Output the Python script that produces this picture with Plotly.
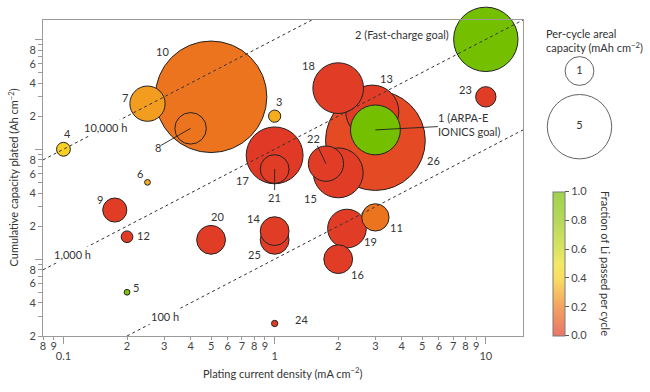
import numpy as np
import plotly.graph_objects as go

# ---------------- data (drawing order: larger bubbles first) ----------------
labels = ["10", "26", "2", "17", "13", "18", "15", "1", "19", "7", "22", "8", "21",
          "20", "25", "14", "16", "11", "9", "23", "4", "3", "12", "24", "6", "5"]
current_density = [0.5, 3.0, 10, 1.0, 2.9, 2.0, 2.0, 3.0, 2.2, 0.25, 1.75, 0.4, 1.0,
                   0.5, 1.0, 1.0, 2.0, 3.0, 0.175, 10, 0.1, 1.0, 0.2, 1.0, 0.25, 0.2]
cumulative_capacity = [3.0, 1.2, 10, 0.88, 2.2, 3.6, 0.61, 1.5, 0.19, 2.6, 0.74, 1.55, 0.66,
                       0.15, 0.15, 0.18, 0.1, 0.24, 0.28, 3.0, 1.0, 2.0, 0.16, 0.026, 0.5, 0.05]
areal_capacity = [15, 12, 5, 3.9, 3.4, 3.1, 3.0, 3.0, 1.8, 1.5, 1.5, 1.2, 1.0,
                  1.0, 1.0, 1.0, 1.0, 0.9, 0.7, 0.5, 0.23, 0.18, 0.165, 0.048, 0.04, 0.04]
li_fraction = [0.18, 0.05, 1.0, 0.0, 0.01, 0.01, 0.01, 1.0, 0.01, 0.28, 0.01, 0.18, 0.01,
               0.01, 0.01, 0.01, 0.01, 0.18, 0.01, 0.01, 0.4, 0.32, 0.01, 0.01, 0.32, 0.95]

line_hours = [10000, 1000, 100]
line_names = ["10,000 h", "1,000 h", "100 h"]

x_minor_ticks = [0.08, 0.09, 0.2, 0.3, 0.4, 0.5, 0.6, 0.7, 0.8, 0.9, 2, 3, 4, 5, 6, 7, 8, 9]
x_minor_text = ["8", "9", "2", "3", "4", "5", "6", "7", "8", "9", "2", "3", "4", "5", "6", "7", "8", "9"]
x_decades = [0.1, 1, 10]
x_decade_text = ["0.1", "1", "10"]
y_label_ticks = [0.02, 0.04, 0.06, 0.08, 0.2, 0.4, 0.6, 0.8, 2, 4, 6, 8]
y_label_text = ["2", "4", "6", "8", "2", "4", "6", "8", "2", "4", "6", "8"]
y_unlabelled_ticks = [0.03, 0.05, 0.07, 0.09, 0.3, 0.5, 0.7, 0.9, 3, 5, 7, 9]
y_decades = [0.1, 1, 10]

legend_capacity = [1, 5]
cbar_ticks = [0.0, 0.2, 0.4, 0.6, 0.8, 1.0]

X_RANGE = [0.08, 15]
Y_RANGE = [0.02, 15]

# ---------------- styling ----------------
FONT = "Lato"
TXT = "#333333"
AX = "#9a9a9a"
L, R, T, B = 43, 5, 20, 56
W, H = 650, 392
PW = W - L - R
PH = H - T - B
PLOT_W = 480

colorscale = [[0.0, "#E03A26"], [0.2, "#EE7A1E"], [0.4, "#F8CF22"], [0.5, "#EEE024"],
              [0.6, "#CCD81E"], [0.8, "#98C814"], [1.0, "#74C000"]]


def lighten(hexc, a=0.7):
    r, g, b = int(hexc[1:3], 16), int(hexc[3:5], 16), int(hexc[5:7], 16)
    f = lambda c: int(round(a * c + (1 - a) * 255))
    return "#%02X%02X%02X" % (f(r), f(g), f(b))


light_scale = [[s, lighten(c)] for s, c in colorscale]

SIZE_PX_PER_UNIT = 28.8
sizeref = 2.0 / SIZE_PX_PER_UNIT ** 2

fig = go.Figure()

# bubbles
fig.add_trace(go.Scatter(
    x=current_density, y=cumulative_capacity, mode="markers", xaxis="x", yaxis="y",
    cliponaxis=False, hoverinfo="text", text=labels,
    marker=dict(size=areal_capacity, sizemode="area", sizeref=sizeref,
                color=li_fraction, colorscale=colorscale, cmin=0, cmax=1,
                showscale=False, opacity=1,
                line=dict(color="#222222", width=1)),
    showlegend=False))

# constant-time lines (capacity = current * hours)
lx0, lx1 = X_RANGE
ly0, ly1 = Y_RANGE
for h in line_hours:
    xs = max(lx0, ly0 * 1000 / h)
    xe = min(lx1, ly1 * 1000 / h)
    xs_arr = np.array([xs, xe])
    fig.add_trace(go.Scatter(
        x=xs_arr, y=xs_arr * h / 1000, mode="lines", xaxis="x2", yaxis="y2",
        line=dict(color="#333333", width=1, dash="3px,3px"),
        hoverinfo="skip", showlegend=False))

# size legend
fig.add_trace(go.Scatter(
    x=[0.5, 0.5], y=[0.75, 0.25], xaxis="x3", yaxis="y3", mode="markers+text",
    text=[str(v) for v in legend_capacity], textposition="middle center",
    textfont=dict(family=FONT, size=11, color=TXT),
    marker=dict(size=legend_capacity, sizemode="area", sizeref=sizeref,
                color="white", line=dict(color="#222222", width=1)),
    hoverinfo="skip", showlegend=False, cliponaxis=False))

# colour bar (drawn lighter, as in the reference)
fig.add_trace(go.Scatter(
    x=[0.5], y=[0.5], xaxis="x3", yaxis="y3", mode="markers",
    marker=dict(size=1, opacity=0, color=[0.0], colorscale=light_scale, cmin=0, cmax=1,
                showscale=True,
                colorbar=dict(
                    x=(552.5 - L) / PW, xanchor="left", y=(T + PH - 191.5) / PH,
                    yanchor="top", len=143.5 / PH, lenmode="fraction", thickness=12,
                    xpad=0, ypad=0, outlinewidth=1, outlinecolor="#7a7a7a",
                    tickvals=cbar_ticks, ticktext=["%.1f" % v for v in cbar_ticks],
                    ticks="outside", ticklen=4, tickcolor="#555555",
                    tickfont=dict(family=FONT, size=11, color="#444444"))),
    hoverinfo="skip", showlegend=False))

tickfont = dict(family=FONT, size=11, color="#444444")
xr = [np.log10(X_RANGE[0]), np.log10(X_RANGE[1])]
yr = [np.log10(Y_RANGE[0]), np.log10(Y_RANGE[1])]
xdom = [0, PLOT_W / PW]

fig.update_layout(
    width=W, height=H, margin=dict(l=L, r=R, t=T, b=B, autoexpand=False),
    paper_bgcolor="white", plot_bgcolor="white",
    font=dict(family=FONT, size=11, color=TXT),
    xaxis=dict(type="log", range=xr, domain=xdom, showline=True, linecolor=AX, linewidth=1,
               mirror=True, showgrid=False, zeroline=False, tickmode="array",
               tickvals=x_minor_ticks, ticktext=x_minor_text, ticks="outside", ticklen=3,
               tickcolor=AX, tickfont=tickfont, anchor="y", ticklabelstandoff=-3),
    yaxis=dict(type="log", range=yr, domain=[0, 1], showline=True, linecolor=AX, linewidth=1,
               mirror=True, showgrid=False, zeroline=False, tickmode="array",
               tickvals=y_label_ticks, ticktext=y_label_text, ticks="outside", ticklen=4,
               tickcolor=AX, tickfont=tickfont, anchor="x", ticklabelstandoff=0,
               minor=dict(tickmode="array", tickvals=y_unlabelled_ticks, ticks="outside",
                          ticklen=4, tickcolor=AX, showgrid=False)),
    xaxis2=dict(type="log", range=xr, overlaying="x", anchor="y2", showline=False,
                showgrid=False, zeroline=False, tickmode="array", tickvals=x_decades,
                ticktext=x_decade_text, ticks="outside", ticklen=7, tickcolor=AX,
                tickfont=tickfont, ticklabelstandoff=3),
    yaxis2=dict(type="log", range=yr, overlaying="y", anchor="x2", showline=False,
                showgrid=False, zeroline=False, tickmode="array", tickvals=y_decades,
                showticklabels=False, ticks="outside", ticklen=7, tickcolor=AX),
    xaxis3=dict(domain=[(579.5 - L) / PW - 0.05, (579.5 - L) / PW + 0.05], range=[0, 1],
                visible=False, anchor="y3", fixedrange=True),
    yaxis3=dict(domain=[(T + PH - 126.7) / PH - 0.25 * 0.3526,
                        (T + PH - 126.7) / PH + 0.75 * 0.3526], range=[0, 1],
                visible=False, anchor="x3", fixedrange=True),
)

annotations = []

# bubble labels: (dx, dy) screen-pixel offsets from the bubble centre, y down
label_offsets = {
    "10": (-49, -45), "26": (58, 20), "17": (-32, 25), "13": (14, -33), "18": (-30, -23),
    "15": (-28, 26), "19": (24, 13), "7": (-23, -6), "20": (6, -23), "25": (-20, 15),
    "14": (-21, -13), "16": (19, 15), "11": (21, 10), "9": (-15, -11), "23": (-20, -7),
    "4": (4, -16), "3": (4, -15), "12": (16, -1), "24": (27, -4), "6": (-8, -9), "5": (9, -5),
}
leader_offsets = {"8": (-33, 19), "21": (0, 28), "22": (-12, -25)}

for lab, xv, yv in zip(labels, current_density, cumulative_capacity):
    lx, ly = np.log10(xv), np.log10(yv)
    if lab in label_offsets:
        dx, dy = label_offsets[lab]
        annotations.append(dict(x=lx, y=ly, xref="x", yref="y", text=lab, showarrow=False,
                                xshift=dx, yshift=-dy, font=dict(size=11, color=TXT)))
    elif lab in leader_offsets:
        dx, dy = leader_offsets[lab]
        annotations.append(dict(x=lx, y=ly, xref="x", yref="y", text=lab, showarrow=True,
                                ax=dx, ay=dy, arrowhead=0, arrowwidth=0.9, arrowcolor="#222222",
                                standoff=0, borderpad=0, font=dict(size=11, color=TXT)))
    elif lab == "1":
        annotations.append(dict(x=lx, y=ly, xref="x", yref="y",
                                text="1 (ARPA-E<br>IONICS goal)", align="left", showarrow=True,
                                ax=94, ay=-5, arrowhead=0, arrowwidth=0.9, arrowcolor="#222222",
                                standoff=0, borderpad=0, font=dict(size=11, color=TXT)))
    elif lab == "2":
        annotations.append(dict(x=lx, y=ly, xref="x", yref="y", text="2 (Fast-charge goal)",
                                showarrow=False, xanchor="right", xshift=-35, yshift=5,
                                font=dict(size=11, color=TXT)))

# line labels sit in gaps of the dashed lines
line_label_x = [0.158, 0.110, 0.303]
for h, name, xv in zip(line_hours, line_names, line_label_x):
    annotations.append(dict(x=np.log10(xv), y=np.log10(xv * h / 1000), xref="x", yref="y",
                            text=name, showarrow=False, bgcolor="white", borderpad=1,
                            font=dict(size=11, color=TXT)))

# axis titles
annotations.append(dict(x=(283 - L) / PW, y=(T + PH - 372.5) / PH, xref="paper", yref="paper",
                        xanchor="center", yanchor="middle",
                        text="Plating current density (mA cm<sup>\u22122</sup>)", showarrow=False,
                        font=dict(size=11, color=TXT)))
annotations.append(dict(x=(12.5 - L) / PW, y=0.5, xref="paper", yref="paper", textangle=-90,
                        xanchor="center", yanchor="middle",
                        text="Cumulative capacity plated (Ah cm<sup>\u22122</sup>)",
                        showarrow=False, font=dict(size=11, color=TXT)))
# size legend title
annotations.append(dict(x=(544 - L) / PW, y=(T + PH - 25) / PH, xref="paper", yref="paper",
                        xanchor="left", yanchor="top", align="left",
                        text="Per-cycle areal<br>capacity (mAh cm<sup>\u22122</sup>)",
                        showarrow=False, font=dict(size=11, color=TXT)))
# colour bar title
annotations.append(dict(x=(606 - L) / PW, y=(T + PH - 263) / PH, xref="paper", yref="paper",
                        xanchor="center", yanchor="middle",
                        textangle=90, text="Fraction of Li passed per cycle", showarrow=False,
                        font=dict(size=11, color=TXT)))

fig.update_layout(annotations=annotations)
fig.write_html("out.html", config={"displayModeBar": False},
               post_script="document.body.style.margin='0px';document.body.style.overflow='hidden';")
